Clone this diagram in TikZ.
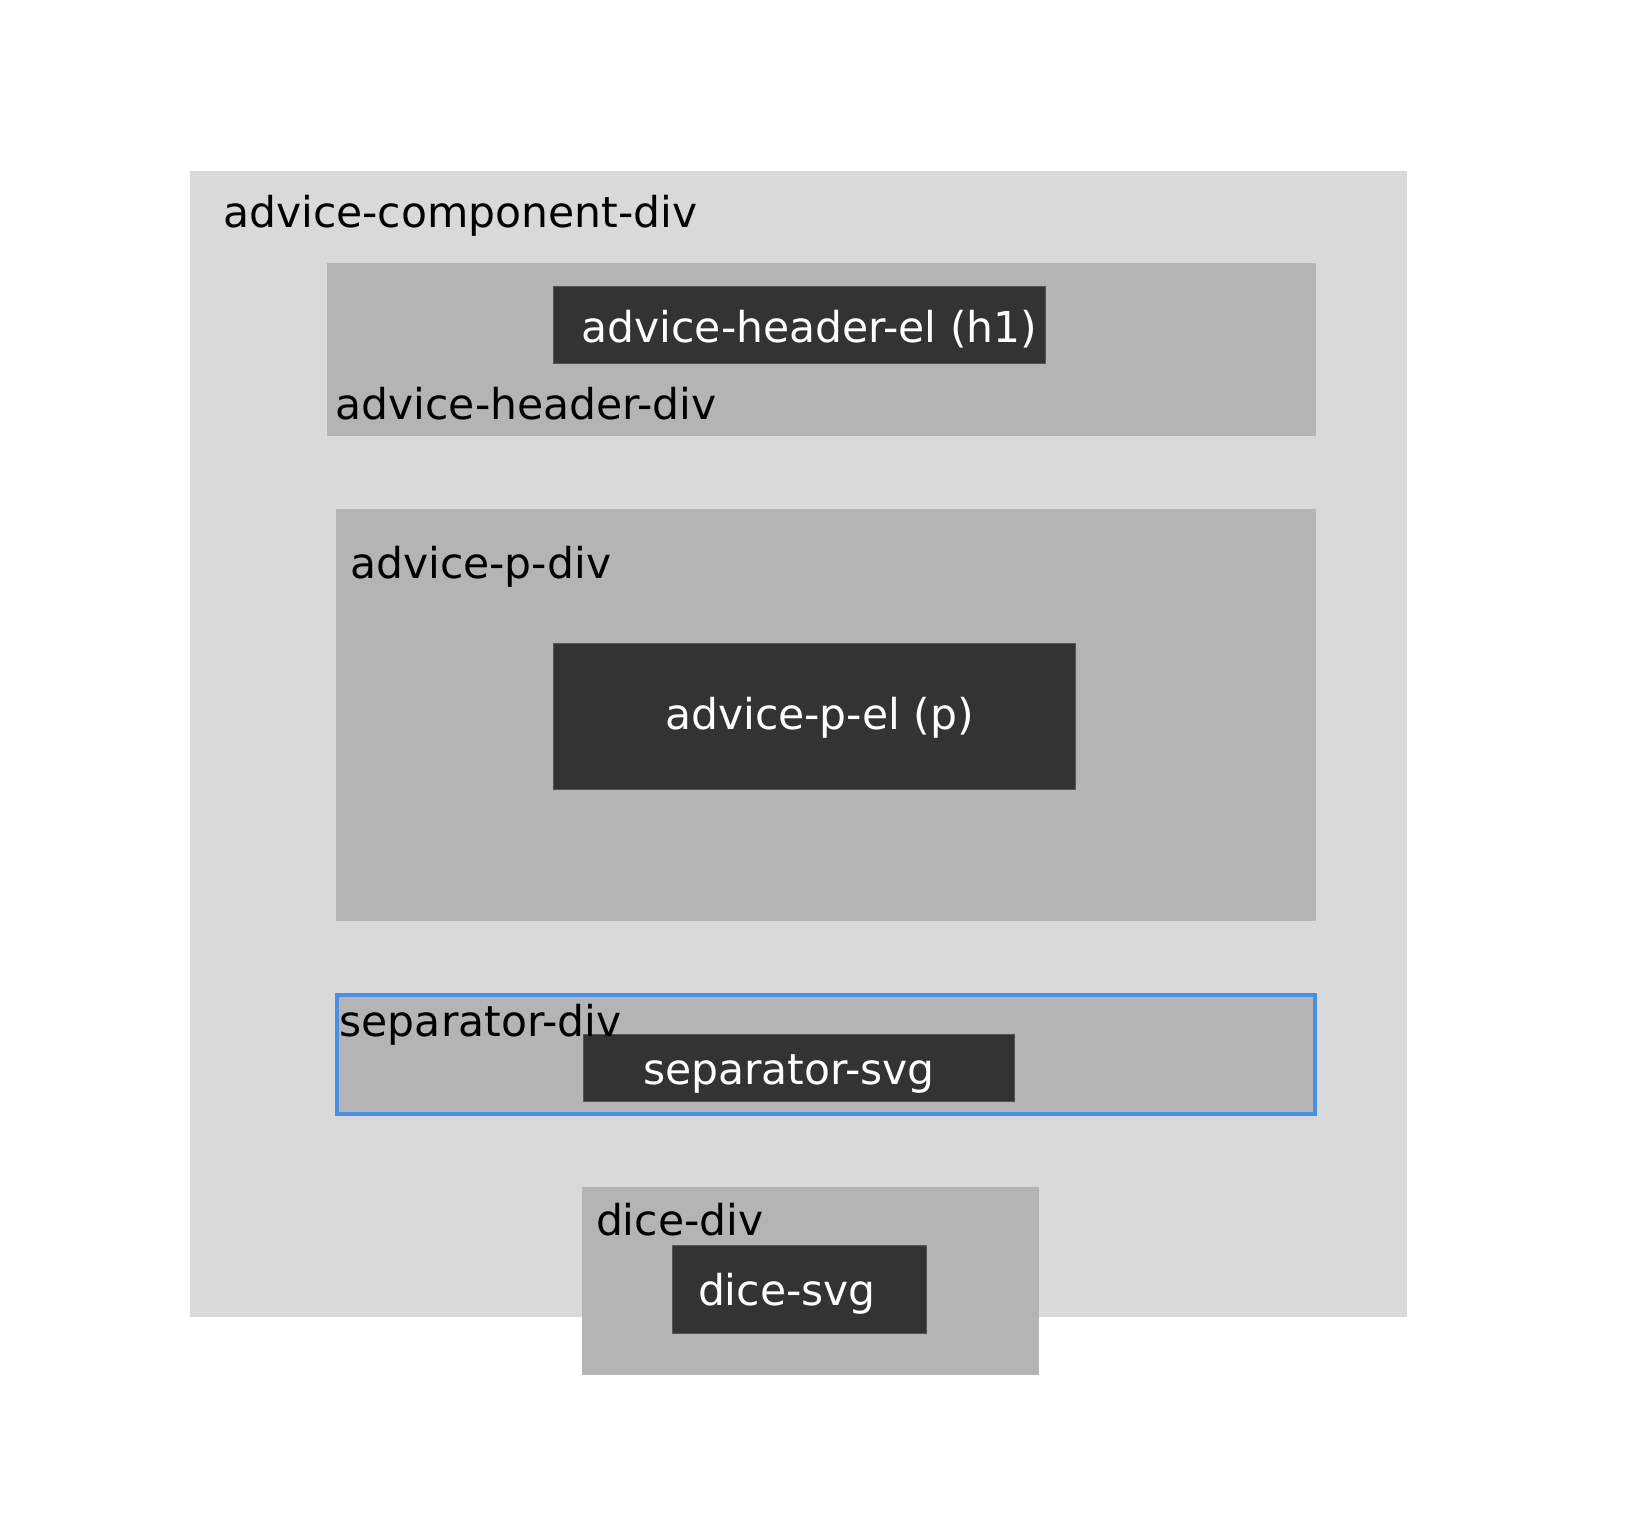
\documentclass[tikz,border=0pt]{standalone}
\usepackage{fontspec}
\setmainfont{DejaVu Sans}
\definecolor{outerbg}{HTML}{D9D9D9}
\definecolor{midbg}{HTML}{B5B4B4}
\definecolor{darkbg}{HTML}{333333}
\definecolor{darkedge}{HTML}{555555}
\definecolor{selblue}{HTML}{4A90E2}
\begin{document}
\begin{tikzpicture}[x=1pt,y=-1pt,
  every node/.style={inner sep=0pt,outer sep=0pt},
  frame/.style={anchor=north west,rectangle},
  outerbox/.style={frame,fill=outerbg},
  midbox/.style={frame,fill=midbg},
  darkbox/.style={frame,fill=darkbg,draw=darkedge,line width=0.8pt},
  selbox/.style={frame,fill=midbg,draw=selblue,line width=4pt},
  lbl/.style={anchor=base west,font=\fontsize{42.5}{50}\selectfont,text=black},
  wlbl/.style={anchor=base west,font=\fontsize{42.5}{50}\selectfont,text=white}
]
\useasboundingbox[fill=white] (0,0) rectangle (1634,1522);

\node[outerbox,minimum width=1217.3pt,minimum height=1145.5pt] (comp) at (189.7,171) {};
\node[lbl] (compl) at (223,228) {advice-component-div};

\node[midbox,minimum width=989pt,minimum height=173pt] (hdiv) at (327.2,262.6) {};
\node[darkbox,minimum width=491.8pt,minimum height=77.1pt] (hel) at (553.4,286.6) {};
\node[wlbl] (hell) at (581.5,343) {advice-header-el (h1)};
\node[lbl] (hdivl) at (335.6,420) {advice-header-div};

\node[midbox,minimum width=980.6pt,minimum height=412.7pt] (pdiv) at (335.6,508.5) {};
\node[lbl] (pdivl) at (350,578) {advice-p-div};
\node[darkbox,minimum width=522.1pt,minimum height=145.9pt] (pel) at (553.4,643) {};
\node[wlbl] (pell) at (665,729.5) {advice-p-el (p)};

\node[selbox,minimum width=978.7pt,minimum height=119pt] (sdiv) at (336.5,995.1) {};
\node[darkbox,minimum width=430.4pt,minimum height=66.7pt] (ssvg) at (583.6,1034.8) {};
\node[wlbl] (ssvgl) at (643,1084) {separator-svg};
\node[lbl] (sdivl) at (339.7,1036) {separator-div};

\node[midbox,minimum width=457.5pt,minimum height=187.6pt] (ddiv) at (581.5,1187) {};
\node[lbl] (ddivl) at (596,1235) {dice-div};
\node[darkbox,minimum width=254.2pt,minimum height=87.6pt] (dsvg) at (672.2,1245.3) {};
\node[wlbl] (dsvgl) at (698,1305) {dice-svg};
\end{tikzpicture}
\end{document}
